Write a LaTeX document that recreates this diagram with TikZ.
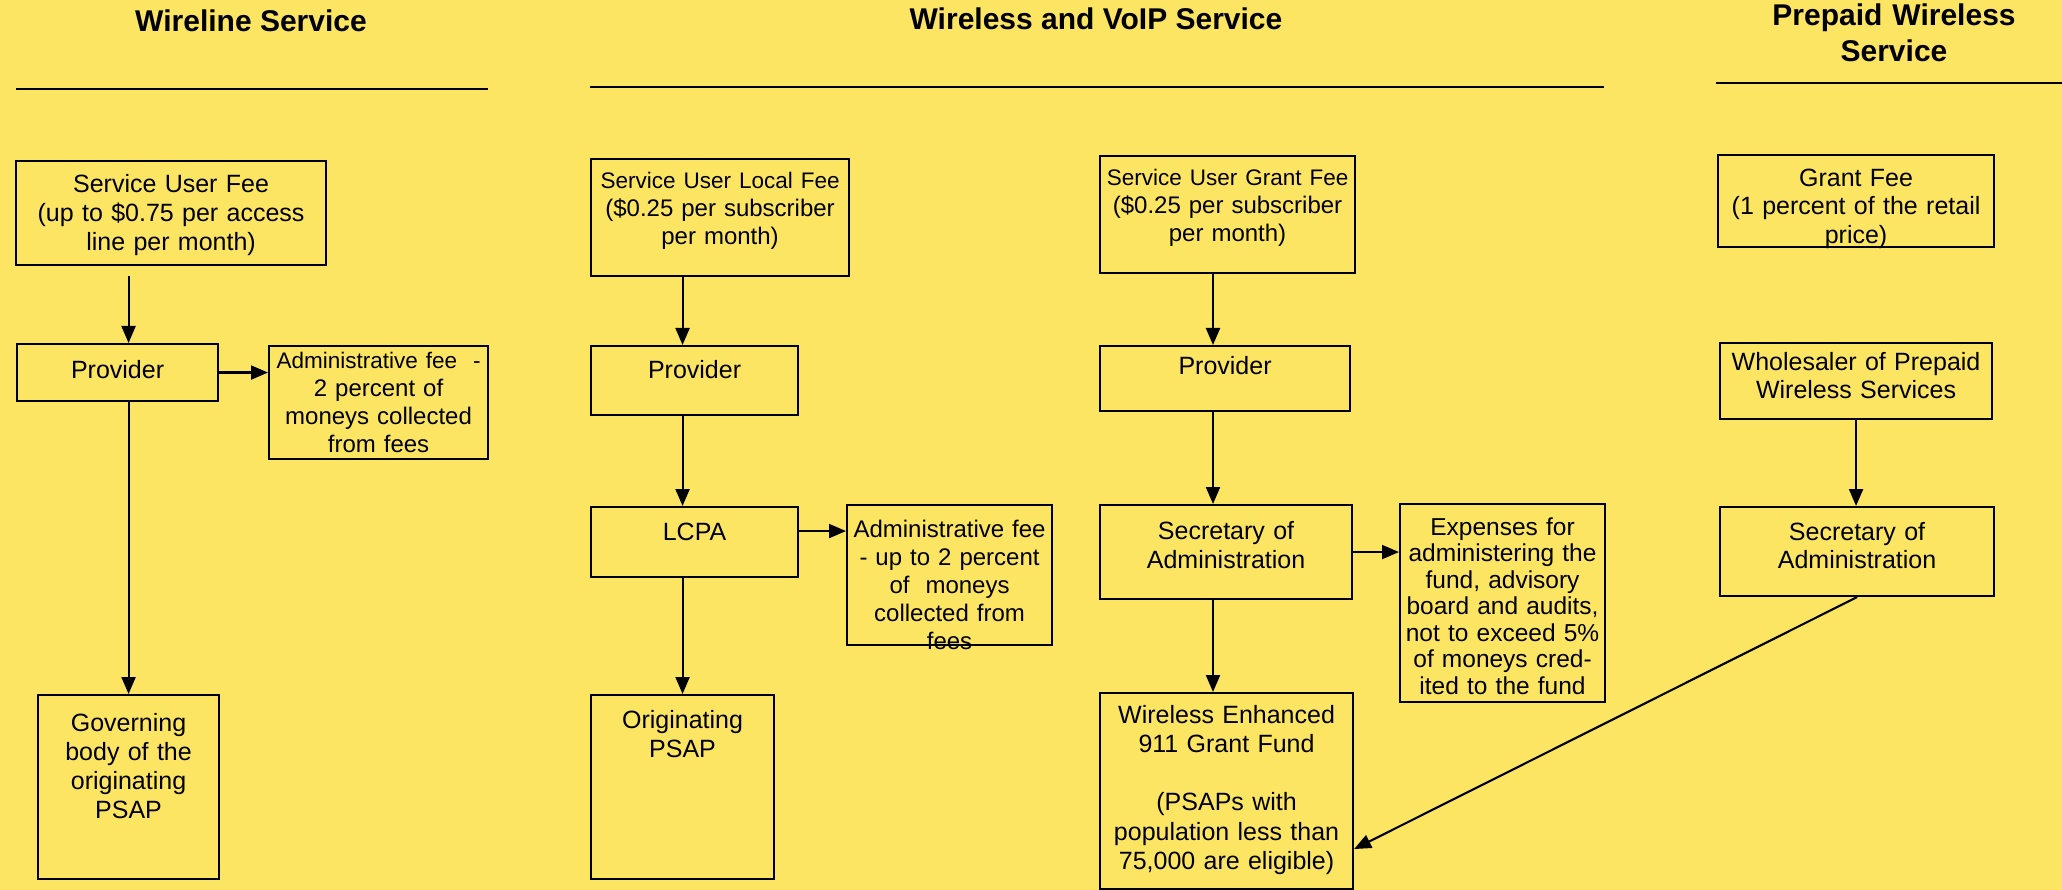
\documentclass[tikz,border=0pt]{standalone}
\usepackage{fontspec}
\setmainfont{Liberation Sans}
\usetikzlibrary{positioning,arrows.meta}
\definecolor{paper}{RGB}{253,229,100}
\newcommand\boxfont{\fontsize{25}{29.3}\selectfont}
\newcommand\smallboxfont{\fontsize{24}{28}\selectfont}
\newcommand\tightfont{\fontsize{22.5}{28}\selectfont}
\newcommand\widefont{\fontsize{25}{28.5}\selectfont}
\newcommand\headfont{\fontsize{30}{36}\selectfont\bfseries}

\begin{document}
\begin{tikzpicture}[
  x=1pt, y=-1pt,
  box/.style={draw, line width=2.1pt, align=center, anchor=north west, inner xsep=3pt, inner ysep=0pt, font=\boxfont, text height=30pt},
  head/.style={font=\headfont, align=center, anchor=base},
  rule/.style={line width=2.1pt},
  arrow/.style={-{Triangle[length=17pt,width=14pt]}, line width=2.1pt}
]
\fill[paper] (0,0) rectangle (2062,890);
\useasboundingbox (0,0) rectangle (2062,890);

% headings
\node[head] (thw) at (251,32) {Wireline Service};
\node[head] (thv) at (1096,30) {Wireless and VoIP Service};
\node[head, text width=340pt] (thp) at (1894,26) {Prepaid Wireless\\Service};
\draw[rule] (16,89) -- (488,89);
\draw[rule] (590,87) -- (1604,87);
\draw[rule] (1716,83) -- (2062,83);

% wireline
\node[box, text width=304pt, text height=31pt, text depth=73pt] (wsuf) at (15,160) {Service User Fee\\(up to \$0.75 per access\\line per month)};
\node[box, text width=195pt, text height=34pt, text depth=23pt] (wprov) at (16,343) {Provider};
\node[box, font=\smallboxfont, text width=213pt, text height=22pt, text depth=91pt] (wadm) at (268,345) {\makebox[\linewidth]{\tightfont Administrative fee\ \ -}\\2 percent of\\moneys collected\\from fees};
\node[box, text width=175pt, text height=36pt, text depth=148pt] (wgov) at (37,694) {Governing\\body of the\\originating\\PSAP};
\draw[arrow, shorten <=10pt] (wsuf.south -| wgov) -- (wprov.north -| wgov);
\draw[arrow] (wprov.east) -- (wprov.east -| wadm.west);
\draw[arrow] (wprov.south -| wgov) -- (wgov.north);

% wireless, local fee
\node[box, font=\smallboxfont, text width=252pt, text height=29pt, text depth=88pt] (lsuf) at (590,158) {\makebox[\linewidth]{\tightfont Service User Local Fee}\\(\$0.25 per subscriber\\per month)};
\node[box, text width=201pt, text height=32pt, text depth=37pt] (lprov) at (590,345) {Provider};
\node[box, text width=201pt, text height=33pt, text depth=37pt] (lcpa) at (590,506) {LCPA};
\node[box, font=\smallboxfont, text width=199pt, text height=32pt, text depth=108pt] (ladm) at (846,504) {Administrative fee\\- up to 2 percent\\of~~moneys\\collected from\\fees};
\node[box, text width=177pt, text height=33pt, text depth=151pt] (lpsap) at (590,694) {Originating\\PSAP};
\draw[arrow] (lsuf.south -| lpsap) -- (lprov.north -| lpsap);
\draw[arrow] (lprov.south -| lpsap) -- (lcpa.north -| lpsap);
\draw[arrow] ([yshift=11pt]lcpa.east) -- ([yshift=11pt]lcpa.east -| ladm.west);
\draw[arrow] (lcpa.south -| lpsap) -- (lpsap.north);

% wireless, grant fee
\coordinate (gx) at (1213,0);
\node[box, font=\smallboxfont, text width=249pt, text height=29pt, text depth=88pt] (gsuf) at (1099,155) {\makebox[\linewidth]{\tightfont Service User Grant Fee}\\(\$0.25 per subscriber\\per month)};
\node[box, text width=244pt, text height=28pt, text depth=37pt] (gprov) at (1099,345) {Provider};
\node[box, text width=246pt, text height=34pt, text depth=60pt] (gsec) at (1099,504) {Secretary of\\Administration};
\node[box, text width=199pt, text height=31pt, text depth=167pt, font=\fontsize{24.5}{26.5}\selectfont] (gexp) at (1399,503) {Expenses for\\administering the\\fund, advisory\\board and audits,\\not to exceed 5\%\\of moneys cred-\\ited to the fund};
\node[box, text width=247pt, text height=30pt, text depth=166pt] (gfund) at (1099,692) {Wireless Enhanced\\911 Grant Fund\\[29.3pt](PSAPs with\\population less than\\75,000 are eligible)};
\draw[arrow] (gsuf.south -| gx) -- (gprov.north -| gx);
\draw[arrow] (gprov.south -| gx) -- (gsec.north -| gx);
\draw[arrow] (gsec.east) -- (gsec.east -| gexp.west);
\draw[arrow] (gsec.south -| gx) -- (gfund.north -| gx);

% prepaid
\node[box, font=\widefont, text width=270pt, text height=31pt, text depth=61pt] (pfee) at (1717,154) {Grant Fee\\(1 percent of the retail\\price)};
\node[box, font=\widefont, text width=266pt, text height=27pt, text depth=49pt] (pwhol) at (1719,342) {Wholesaler of Prepaid\\Wireless Services};
\node[box, font=\widefont, text width=268pt, text height=33pt, text depth=56pt] (psec) at (1719,506) {Secretary of\\Administration};
\draw[arrow] (pwhol.south) -- (pwhol.south |- psec.north);
\draw[arrow] (psec.south) -- ([yshift=-58pt]gfund.east);
\end{tikzpicture}
\end{document}
